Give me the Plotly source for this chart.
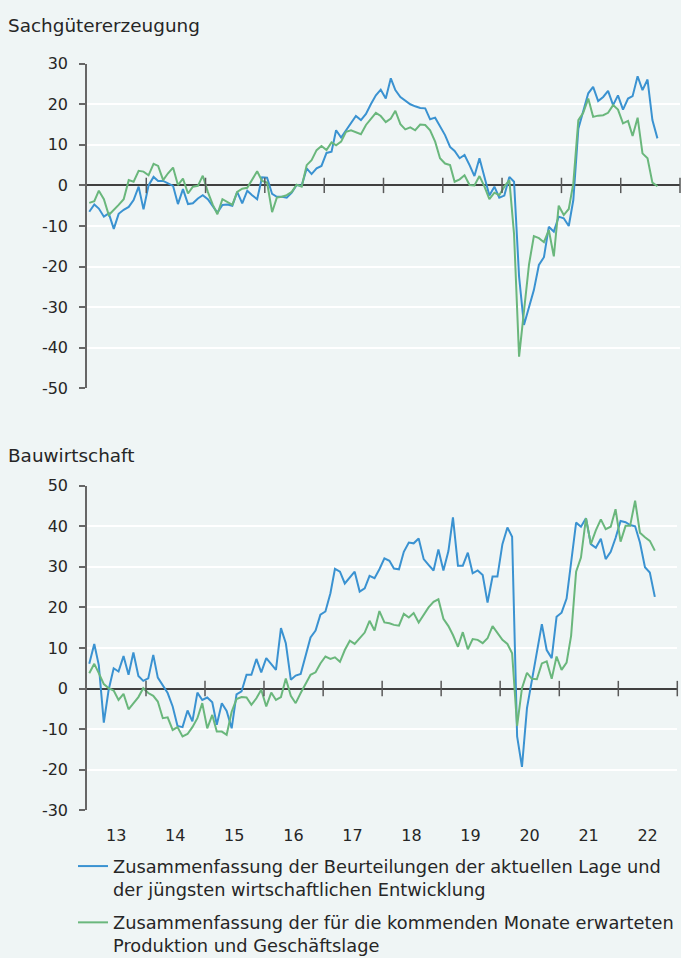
import plotly.graph_objects as go
import pandas as pd

# Monthly data, Jan 2013 - Aug 2022
months = pd.period_range("2013-01", "2022-08", freq="M")

sach_lage = [-6.5, -4.7, -5.7, -7.7, -6.9, -10.7, -7.0, -6.0, -5.3, -3.6, -0.3, -5.9,
             0.0, 2.1, 1.1, 1.1, 0.5, -0.1, -4.6, -0.9, -4.6, -4.4, -3.2, -2.4,
             -3.4, -5.3, -6.7, -4.8, -4.7, -5.0, -1.6, -4.4, -1.3, -2.4, -3.4, 2.0,
             1.9, -2.1, -2.8, -2.8, -3.0, -1.8, 0.1, -0.1, 4.2, 2.8, 4.2, 4.8,
             8.0, 8.3, 13.6, 11.8, 13.6, 15.3, 17.1, 16.1, 17.6, 20.0, 22.2, 23.6,
             21.4, 26.4, 23.5, 21.8, 21.0, 20.0, 19.5, 19.1, 19.0, 16.3, 16.7, 14.6,
             12.4, 9.5, 8.5, 6.7, 7.5, 5.0, 2.3, 6.7, 2.3, -2.5, -0.3, -3.0,
             -2.5, 2.1, 0.9, -22.5, -34.4, -30.3, -25.8, -19.6, -17.7, -10.2, -11.4, -7.7,
             -8.1, -10.0, -3.6, 14.0, 18.1, 22.7, 24.3, 20.8, 21.8, 23.3, 19.8, 22.2,
             18.7, 21.4, 22.0, 26.9, 23.5, 26.1, 16.1, 11.6]

sach_erw = [-4.3, -3.9, -1.3, -3.4, -7.3, -6.1, -4.8, -3.4, 1.3, 0.9, 3.6, 3.4,
            2.5, 5.3, 4.8, 1.3, 3.0, 4.4, 0.1, 1.7, -2.0, -0.3, -0.1, 2.4,
            -1.6, -4.8, -7.1, -3.4, -4.0, -4.8, -1.6, -0.8, -0.6, 1.3, 3.5, 1.1,
            0.7, -6.6, -3.0, -2.8, -2.4, -1.6, 0.2, -0.3, 5.0, 6.2, 8.7, 9.7,
            8.7, 10.6, 9.9, 10.8, 13.2, 13.6, 13.2, 12.6, 14.9, 16.5, 17.9, 17.1,
            15.6, 16.5, 18.4, 15.1, 13.8, 14.3, 13.6, 15.0, 14.9, 13.6, 10.8, 6.7,
            5.4, 5.0, 0.9, 1.5, 2.5, 0.1, 0.0, 2.3, -0.3, -3.4, -1.8, -2.4,
            -0.3, 1.3, -12.0, -42.2, -31.0, -19.5, -12.5, -13.0, -14.0, -11.0, -17.5, -5.0,
            -7.3, -5.8, 0.5, 16.1, 17.9, 21.4, 16.9, 17.2, 17.3, 17.9, 19.8, 18.7,
            15.3, 15.9, 12.2, 16.7, 7.9, 6.7, 0.7, -0.2]

bau_lage = [6.1, 11.0, 5.8, -8.4, -0.3, 5.0, 4.2, 8.0, 3.4, 8.9, 3.1, 1.9,
            2.5, 8.3, 2.7, 0.9, -1.1, -4.4, -9.2, -9.5, -5.4, -8.1, -1.0, -2.8,
            -2.2, -3.4, -8.9, -3.6, -5.5, -9.8, -1.4, -0.7, 3.4, 3.4, 7.3, 4.0,
            7.5, 6.0, 4.6, 14.9, 11.2, 2.2, 3.2, 3.6, 8.0, 12.6, 14.3, 18.2,
            19.0, 23.5, 29.5, 28.8, 25.9, 27.4, 28.8, 23.9, 24.7, 27.8, 27.2, 29.4,
            32.1, 31.5, 29.6, 29.4, 33.7, 36.0, 35.8, 37.0, 31.9, 30.5, 29.1, 34.3,
            29.1, 33.9, 42.2, 30.3, 30.3, 33.5, 28.4, 29.1, 28.0, 21.2, 27.6, 27.6,
            35.6, 39.7, 37.4, -11.8, -19.3, -4.8, 2.1, 9.5, 15.9, 9.5, 7.5, 17.7,
            18.7, 22.2, 30.5, 40.9, 39.9, 42.0, 35.6, 34.7, 36.9, 31.9, 33.7, 37.1,
            41.3, 41.0, 40.3, 40.0, 36.0, 29.9, 28.6, 22.6]

bau_erw = [3.8, 6.1, 3.8, 1.1, 0.1, -0.5, -2.8, -1.3, -5.1, -3.6, -2.1, 0.1,
           -1.1, -1.8, -3.2, -7.3, -7.1, -10.2, -9.5, -11.8, -11.2, -9.5, -7.3, -3.6,
           -9.8, -6.5, -10.6, -10.6, -11.4, -5.7, -2.6, -2.1, -2.2, -4.0, -2.4, -0.3,
           -4.4, -1.0, -2.8, -2.1, 2.5, -1.8, -3.6, -1.1, 1.3, 3.4, 4.0, 6.2,
           7.9, 7.3, 7.7, 6.6, 9.5, 11.8, 11.0, 12.4, 13.8, 16.7, 14.3, 19.1,
           16.3, 16.1, 15.7, 15.5, 18.4, 17.5, 18.6, 16.3, 18.3, 20.0, 21.4, 22.0,
           17.2, 15.4, 13.2, 10.3, 13.9, 9.7, 12.2, 12.0, 11.2, 12.4, 15.4, 13.6,
           12.0, 11.0, 8.7, -9.2, 0.1, 3.9, 2.4, 2.3, 6.2, 6.7, 2.4, 7.9,
           4.6, 6.4, 13.0, 28.8, 32.3, 42.0, 35.6, 39.0, 41.7, 39.3, 39.9, 44.2,
           36.2, 40.1, 40.1, 46.3, 38.4, 37.3, 36.4, 34.0]

years = list(range(2013, 2023))
year_labels = [str(y)[2:] for y in years]

y1_ticks = [-50, -40, -30, -20, -10, 0, 10, 20, 30]
y2_ticks = [-30, -20, -10, 0, 10, 20, 30, 40, 50]

series_names = [
    "Zusammenfassung der Beurteilungen der aktuellen Lage und<br>der jüngsten wirtschaftlichen Entwicklung",
    "Zusammenfassung der für die kommenden Monate erwarteten<br>Produktion und Geschäftslage",
]
panel_titles = ["Sachgütererzeugung", "Bauwirtschaft"]

BLUE = "#3a92d1"
GREEN = "#6ab77c"
BG = "#eff5f5"
FONT = "DejaVu Sans"
TXT = "#262626"

# mid-month positions
x_dates = [p.to_timestamp() + pd.Timedelta(days=14) for p in months]
year_starts = [pd.Timestamp(f"{y}-01-01") for y in range(2014, 2024)]
year_mids = [pd.Timestamp(f"{y}-07-01") for y in years]

fig = go.Figure()

panels = [
    ("x", "y", sach_lage, sach_erw, True),
    ("x2", "y2", bau_lage, bau_erw, False),
]
for xa, ya, lage, erw, show in panels:
    fig.add_trace(go.Scatter(
        x=x_dates, y=lage, mode="lines", name=series_names[0],
        line=dict(color=BLUE, width=2), xaxis=xa, yaxis=ya,
        legendgroup="a", showlegend=show, hoverinfo="skip"))
    fig.add_trace(go.Scatter(
        x=x_dates, y=erw, mode="lines", name=series_names[1],
        line=dict(color=GREEN, width=2), xaxis=xa, yaxis=ya,
        legendgroup="b", showlegend=show, hoverinfo="skip"))
    fig.add_trace(go.Scatter(
        x=year_starts, y=[0] * len(year_starts), mode="markers",
        marker=dict(symbol="line-ns", size=11,
                    line=dict(color="#595959", width=1.5)),
        xaxis=xa, yaxis=ya, showlegend=False, hoverinfo="skip",
        cliponaxis=False))

H = 958.0
W = 681.0

def ydom(top_px, bot_px):
    return [(H - bot_px) / H, (H - top_px) / H]

xcommon = dict(
    type="date", range=["2013-01-01", "2023-01-01"], automargin=False,
    showgrid=False, zeroline=False, showline=False, ticks="",
    tickmode="array", tickvals=year_mids, ticktext=year_labels,
    tickfont=dict(family=FONT, size=16, color=TXT),
)
ycommon = dict(
    automargin=False,
    showgrid=True, gridcolor="white", gridwidth=2,
    zeroline=True, zerolinecolor="#404040", zerolinewidth=1.5,
    showline=True, linecolor="#666666", linewidth=1.5,
    ticks="outside", ticklen=6, tickcolor="#666666", tickwidth=1.5,
    tickmode="array", tickfont=dict(family=FONT, size=16, color=TXT),
    ticklabelstandoff=8,
)

fig.update_layout(
    width=681, height=958,
    margin=dict(l=0, r=0, t=0, b=0, autoexpand=False),
    paper_bgcolor=BG, plot_bgcolor=BG,
    font=dict(family=FONT, size=16, color=TXT),
    xaxis=dict(domain=[87 / W, 680 / W], anchor="y", showticklabels=False, **xcommon),
    yaxis=dict(domain=ydom(63.7, 388.3), range=[-50, 30], anchor="x",
               tickvals=y1_ticks, ticktext=[str(v) for v in y1_ticks], **ycommon),
    xaxis2=dict(domain=[87 / W, 677.3 / W], anchor="y2", showticklabels=True,
                ticklabelstandoff=14, **xcommon),
    yaxis2=dict(domain=ydom(485.7, 810.3), range=[-30, 50], anchor="x2",
                tickvals=y2_ticks, ticktext=[str(v) for v in y2_ticks], **ycommon),
    legend=dict(
        x=73 / W, y=(H - 848) / H, xanchor="left", yanchor="top",
        bgcolor="rgba(0,0,0,0)", valign="top", tracegroupgap=7,
        font=dict(family=FONT, size=17.8, color=TXT),
    ),
    annotations=[
        dict(text=panel_titles[0], xref="paper", yref="paper", x=6 / W, y=(H - 25) / H,
             xanchor="left", yanchor="middle", showarrow=False,
             font=dict(family=FONT, size=18.4, color=TXT)),
        dict(text=panel_titles[1], xref="paper", yref="paper", x=6 / W, y=(H - 455) / H,
             xanchor="left", yanchor="middle", showarrow=False,
             font=dict(family=FONT, size=18.4, color=TXT)),
    ],
)

fig.write_html(
    "out.html",
    config={"displayModeBar": False},
    post_script="document.body.style.margin='0';document.body.style.padding='0';"
                "document.documentElement.style.overflow='hidden';",
)
